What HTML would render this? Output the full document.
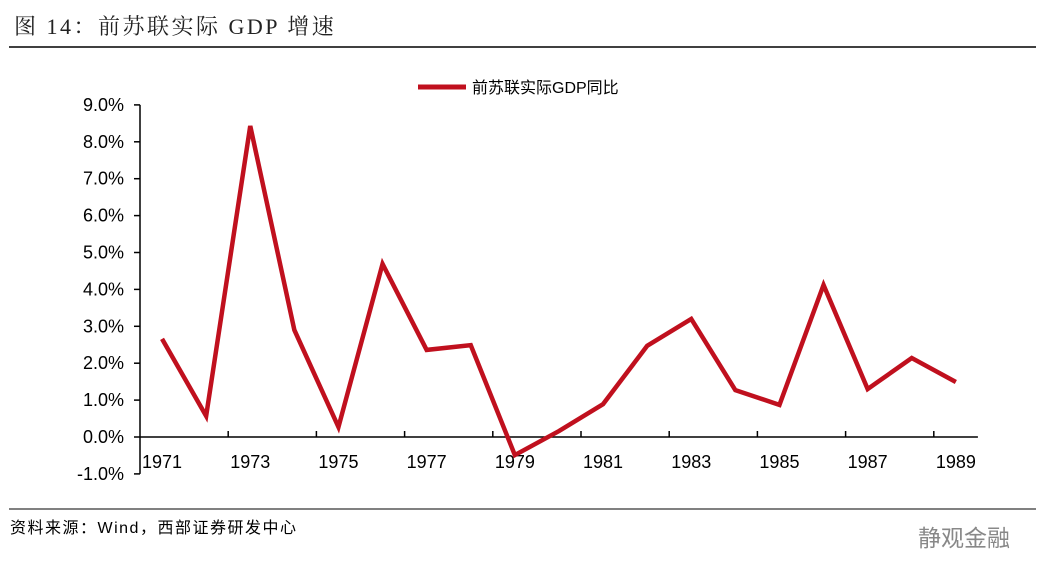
<!DOCTYPE html>
<html><head><meta charset="utf-8"><style>
body{margin:0;background:#fff;width:1055px;height:583px;overflow:hidden;font-family:"Liberation Sans","Noto Sans CJK SC",sans-serif;}
</style></head><body>
<svg width="1055" height="583">
<text x="14" y="34" font-size="22" letter-spacing="2.5" fill="#222" font-family="Liberation Serif, Noto Serif CJK SC, serif">图 14：前苏联实际 GDP 增速</text>
<line x1="9" y1="47" x2="1036" y2="47" stroke="#000" stroke-width="1.5"/>
<g>
<line x1="418" y1="87" x2="466" y2="87" stroke="#c0101e" stroke-width="5"/>
<text x="472" y="93" font-size="16" fill="#000">前苏联实际GDP同比</text>
</g>
<g id="axes"></g>
<g id="marks"></g>
<line x1="9" y1="509" x2="1036" y2="509" stroke="#000" stroke-width="1"/>
<text x="10" y="533" font-size="16" letter-spacing="1.5" fill="#000">资料来源：Wind，西部证券研发中心</text>
<text x="918" y="546" font-size="23" fill="#888">静观金融</text>
</svg>
<script>
const years=[1971,1972,1973,1974,1975,1976,1977,1978,1979,1980,1981,1982,1983,1984,1985,1986,1987,1988,1989];
const growth=[2.66,0.57,8.43,2.9,0.27,4.69,2.36,2.49,-0.49,0.16,0.89,2.47,3.2,1.27,0.87,4.12,1.3,2.14,1.49];
const yTicks=[-1,0,1,2,3,4,5,6,7,8,9];
const NS="http://www.w3.org/2000/svg";
const x0=140,bw=44.1,y0=437,py=36.9;
const xs=i=>x0+bw*(i+0.5), ys=v=>y0-v*py;
const ax=document.getElementById('axes'), mk=document.getElementById('marks');
function el(t,a,p){const e=document.createElementNS(NS,t);for(const k in a)e.setAttribute(k,a[k]);p.appendChild(e);return e;}
const ya=el('line',{x1:x0,y1:ys(9),x2:x0,y2:ys(-1),stroke:'#000','stroke-width':1.5},ax);


yTicks.forEach(v=>{
 const t=el('line',{x1:x0-6,y1:ys(v),x2:x0,y2:ys(v),stroke:'#000','stroke-width':1.5},ax);
 
 
 const l=el('text',{x:x0-16,y:ys(v)+6,'font-size':18,'text-anchor':'end',fill:'#000'},ax);
 l.textContent=v.toFixed(1)+'%';
 
 
});
const xa=el('line',{x1:x0,y1:y0,x2:x0+bw*years.length,y2:y0,stroke:'#000','stroke-width':1.5},ax);


for(let i=2;i<=years.length;i+=2){
 const t=el('line',{x1:x0+bw*i,y1:y0-6,x2:x0+bw*i,y2:y0,stroke:'#000','stroke-width':1.5},ax);
 
 
}
years.forEach((y,i)=>{if(i%2)return;
 const l=el('text',{x:xs(i),y:468,'font-size':18,'text-anchor':'middle',fill:'#000'},ax);
 l.textContent=y;
 
 
});
const pl=el('polyline',{points:growth.map((v,i)=>xs(i)+','+ys(v)).join(' '),fill:'none',stroke:'#c0101e','stroke-width':4.5,'stroke-linejoin':'miter'},mk);


</script>
</body></html>
